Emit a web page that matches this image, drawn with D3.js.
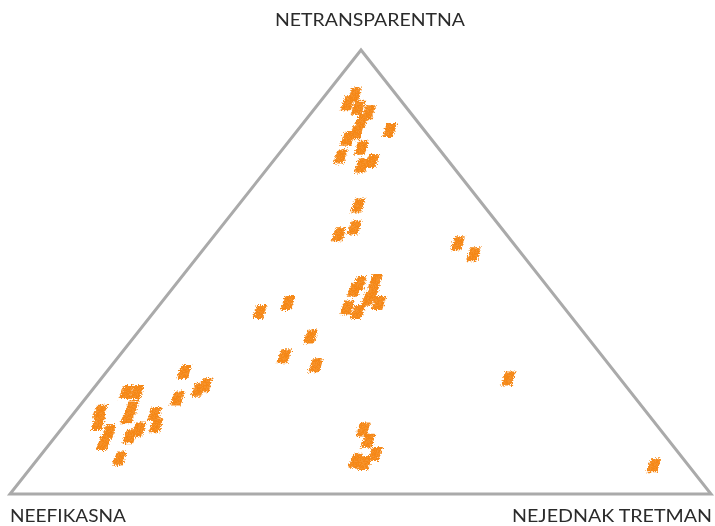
<!DOCTYPE html>
<html>
<head>
<meta charset="utf-8">
<script src="https://cdn.jsdelivr.net/npm/d3@7"></script>
<style>
    html, body { margin: 0; padding: 0; background: #fff; }
    svg { display: block; }
    .corner { font-family: Lato, "Open Sans", sans-serif; font-weight: 400; font-size: 18px; fill: #2b2b2b; }
</style>
</head>
<body>
<svg id="chart" width="715" height="526"></svg>
<script>

// corner labels (top, bottom-left, bottom-right)
var corners = ["NETRANSPARENTNA", "NEEFIKASNA", "NEJEDNAK TRETMAN"];

// share of each point towards the three corners, in percent
var netransparentna = [90, 88, 87, 86, 84, 82, 80, 81.5, 78, 76, 74, 75,
    65, 60, 58.5, 56.5, 54,
    46, 47.5, 48, 45, 44, 43, 42, 41,
    43, 41, 35.5, 31, 29, 26, 6.5,
    14.5, 12, 9, 7.5, 7,
    27.5, 23.5, 24.5, 21.5, 23, 23, 19.5, 18.5, 16, 17.5, 18, 15.5, 14, 13, 14.5, 11.5, 8];
var neefikasna = [6, 8, 7, 6, 8, 5, 12, 10, 11, 15, 13, 11,
    18, 21, 24, 8, 7,
    28, 26.5, 24, 26, 27, 26, 31, 30,
    39, 44, 39.5, 45.5, 42, 16, 5,
    42.5, 43, 43.5, 47, 46,
    61.5, 61.5, 60, 65.5, 72, 70.5, 73, 78, 79.5, 74.5, 70.5, 71.5, 79, 76.5, 74.5, 81, 80.5];
var nejednakTretman = [4, 4, 6, 8, 8, 13, 8, 8.5, 11, 9, 13, 14,
    17, 19, 17.5, 35.5, 39,
    26, 26, 28, 29, 29, 31, 27, 29,
    18, 15, 25, 23.5, 29, 58, 88.5,
    43, 45, 47.5, 45.5, 47,
    11, 15, 15.5, 13, 5, 6.5, 7.5, 3.5, 4.5, 8, 11.5, 13, 7, 10.5, 11, 7.5, 11.5];

var svg = d3.select("#chart");

var apex = [361, 50], left = [10, 494], right = [711, 494];

// vertical position from the top share, horizontal from the right share
var yScale = d3.scaleLinear().domain([0, 1]).range([left[1], apex[1]]);
var rScale = d3.scaleLinear().domain([0, 1]).range([0, right[0] - left[0]]);
var tShift = d3.scaleLinear().domain([0, 1]).range([0, apex[0] - left[0]]);

var points = netransparentna.map(function (t, i) {
    var sum = t + neefikasna[i] + nejednakTretman[i];
    var top = t / sum, r = nejednakTretman[i] / sum;
    return { x: left[0] + tShift(top) + rScale(r), y: yScale(top) };
});

// rough, sketchy edges for the marks
var defs = svg.append("defs");
var rough = defs.append("filter")
    .attr("id", "rough")
    .attr("x", "-60%").attr("y", "-60%")
    .attr("width", "220%").attr("height", "220%");
rough.append("feTurbulence")
    .attr("type", "fractalNoise")
    .attr("baseFrequency", 0.7)
    .attr("numOctaves", 2)
    .attr("result", "noise");
rough.append("feDisplacementMap")
    .attr("in", "SourceGraphic")
    .attr("in2", "noise")
    .attr("scale", 6)
    .attr("xChannelSelector", "R")
    .attr("yChannelSelector", "G")
    .attr("result", "moved");
rough.append("feGaussianBlur")
    .attr("in", "moved")
    .attr("stdDeviation", 0.4);

var hatch = defs.append("pattern")
    .attr("id", "hatch")
    .attr("patternUnits", "userSpaceOnUse")
    .attr("width", 2.5).attr("height", 2.5)
    .attr("patternTransform", "rotate(75)");
hatch.append("rect").attr("width", 2.5).attr("height", 2.5).attr("fill", "#f89c3e");
hatch.append("rect").attr("width", 2).attr("height", 2.5).attr("fill", "#f58716");

// triangle
svg.append("path")
    .attr("d", d3.line()([apex, right, left]) + "Z")
    .attr("fill", "none")
    .attr("stroke", "#aaa")
    .attr("stroke-width", 3)
    .attr("stroke-linejoin", "miter");

var markShape = "M-7,7 L4,7 L8,-7 L-2,-7 Z";

svg.append("g")
    .attr("filter", "url(#rough)")
  .selectAll("path")
  .data(points)
  .join("path")
    .attr("transform", d => `translate(${d.x}, ${d.y})`)
    .attr("d", markShape)
    .attr("fill", "url(#hatch)");

// corner labels
svg.append("text").attr("class", "corner")
    .attr("x", 370).attr("y", 26)
    .attr("text-anchor", "middle")
    .attr("textLength", 190).attr("lengthAdjust", "spacingAndGlyphs")
    .text(corners[0]);

svg.append("text").attr("class", "corner")
    .attr("x", 10).attr("y", 522)
    .attr("textLength", 116).attr("lengthAdjust", "spacingAndGlyphs")
    .text(corners[1]);

svg.append("text").attr("class", "corner")
    .attr("x", 512).attr("y", 522)
    .attr("textLength", 200).attr("lengthAdjust", "spacingAndGlyphs")
    .text(corners[2]);

</script>
</body>
</html>
